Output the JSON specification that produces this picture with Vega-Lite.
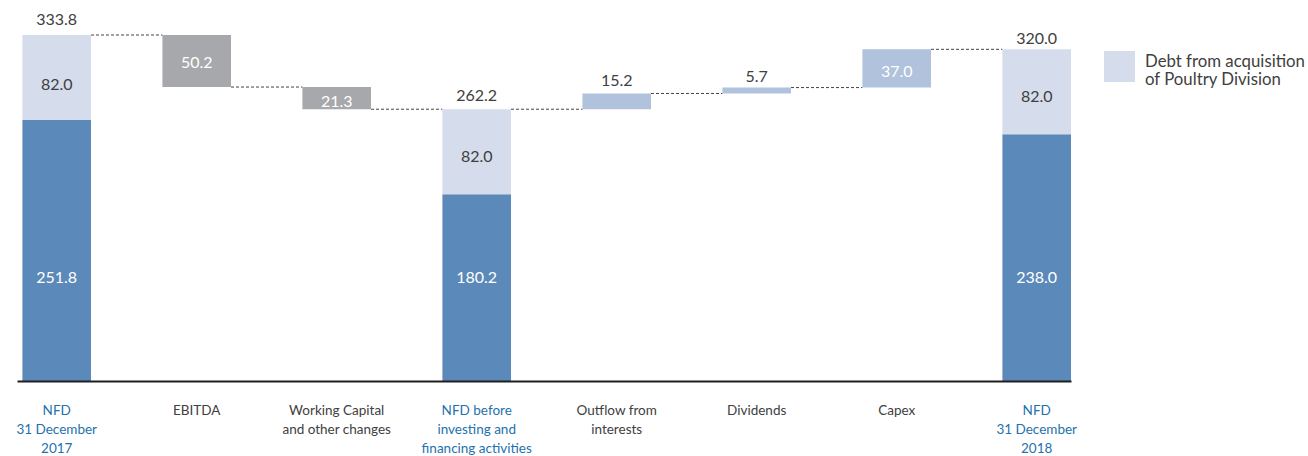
{
  "$schema": "https://vega.github.io/schema/vega-lite/v6.json",
  "width": 1054,
  "height": 352,
  "autosize": "none",
  "padding": {"left": 17, "top": 29, "right": 237, "bottom": 75},
  "background": "white",
  "config": {"view": {"stroke": null}, "font": "Lato"},
  "datasets": {
    "bars": [
      {"cat": "NFD\n31 December\n2017", "lo": 0, "hi": 251.8, "type": "NFD"},
      {"cat": "NFD\n31 December\n2017", "lo": 251.8, "hi": 333.8, "type": "Debt from acquisition of Poultry Division"},
      {"cat": "EBITDA", "lo": 283.6, "hi": 333.8, "type": "Decrease"},
      {"cat": "Working Capital\nand other changes", "lo": 262.2, "hi": 283.6, "type": "Decrease"},
      {"cat": "NFD before\ninvesting and\nfinancing activities", "lo": 0, "hi": 180.2, "type": "NFD"},
      {"cat": "NFD before\ninvesting and\nfinancing activities", "lo": 180.2, "hi": 262.2, "type": "Debt from acquisition of Poultry Division"},
      {"cat": "Outflow from\ninterests", "lo": 262.2, "hi": 277.4, "type": "Increase"},
      {"cat": "Dividends", "lo": 277.4, "hi": 283.1, "type": "Increase"},
      {"cat": "Capex", "lo": 283.1, "hi": 320.0, "type": "Increase"},
      {"cat": "NFD\n31 December\n2018", "lo": 0, "hi": 238.0, "type": "NFD"},
      {"cat": "NFD\n31 December\n2018", "lo": 238.0, "hi": 320.0, "type": "Debt from acquisition of Poultry Division"}
    ],
    "links": [
      {"cat": "NFD\n31 December\n2017", "next": "EBITDA", "v": 333.8},
      {"cat": "EBITDA", "next": "Working Capital\nand other changes", "v": 283.6},
      {"cat": "Working Capital\nand other changes", "next": "NFD before\ninvesting and\nfinancing activities", "v": 262.2},
      {"cat": "NFD before\ninvesting and\nfinancing activities", "next": "Outflow from\ninterests", "v": 262.2},
      {"cat": "Outflow from\ninterests", "next": "Dividends", "v": 277.4},
      {"cat": "Dividends", "next": "Capex", "v": 283.1},
      {"cat": "Capex", "next": "NFD\n31 December\n2018", "v": 320.0}
    ],
    "labels": [
      {"cat": "NFD\n31 December\n2017", "y": 348.3, "text": "333.8", "style": "dark"},
      {"cat": "NFD\n31 December\n2017", "y": 285.5, "text": "82.0", "style": "dark"},
      {"cat": "NFD\n31 December\n2017", "y": 99.4, "text": "251.8", "style": "white"},
      {"cat": "EBITDA", "y": 306.5, "text": "50.2", "style": "white"},
      {"cat": "Working Capital\nand other changes", "y": 269.5, "text": "21.3", "style": "white"},
      {"cat": "NFD before\ninvesting and\nfinancing activities", "y": 275.0, "text": "262.2", "style": "dark"},
      {"cat": "NFD before\ninvesting and\nfinancing activities", "y": 216.0, "text": "82.0", "style": "dark"},
      {"cat": "NFD before\ninvesting and\nfinancing activities", "y": 99.4, "text": "180.2", "style": "white"},
      {"cat": "Outflow from\ninterests", "y": 289.7, "text": "15.2", "style": "dark"},
      {"cat": "Dividends", "y": 293.5, "text": "5.7", "style": "dark"},
      {"cat": "Capex", "y": 298.4, "text": "37.0", "style": "white"},
      {"cat": "NFD\n31 December\n2018", "y": 330.0, "text": "320.0", "style": "dark"},
      {"cat": "NFD\n31 December\n2018", "y": 274.3, "text": "82.0", "style": "dark"},
      {"cat": "NFD\n31 December\n2018", "y": 99.4, "text": "238.0", "style": "white"}
    ]
  },
  "layer": [
    {
      "data": {"name": "links"},
      "mark": {"type": "rule", "strokeDash": [3, 2], "color": "#444444", "strokeWidth": 1},
      "encoding": {
        "x": {"field": "cat", "type": "nominal", "bandPosition": 1, "sort": null,
              "scale": {"domain": ["NFD\n31 December\n2017", "EBITDA", "Working Capital\nand other changes", "NFD before\ninvesting and\nfinancing activities", "Outflow from\ninterests", "Dividends", "Capex", "NFD\n31 December\n2018"], "paddingInner": 0.51, "paddingOuter": 0.0193, "align": 1}},
        "x2": {"field": "next", "bandPosition": 0},
        "y": {"field": "v", "type": "quantitative", "scale": {"domain": [0, 339.6], "nice": false}, "axis": null}
      }
    },
    {
      "data": {"name": "bars"},
      "mark": {"type": "bar"},
      "encoding": {
        "x": {"field": "cat", "type": "nominal", "sort": null,
              "axis": {"title": null, "domainColor": "#1f1f1f", "domainWidth": 2, "ticks": false, "zindex": 1,
                       "labelFont": "Lato", "labelFontSize": 13.5, "labelLineHeight": 19, "labelPadding": 29, "labelAngle": 0,
                       "labelAlign": "center", "labelBaseline": "middle",
                       "labelLimit": 300, "labelOverlap": false, "labelBound": false, "labelFlush": false,
                       "labelExpr": "split(datum.value, '\\n')",
                       "labelColor": {"condition": {"test": "indexof(datum.value, 'NFD') === 0", "value": "#2471ad"}, "value": "#404040"}}},
        "y": {"field": "lo", "type": "quantitative"},
        "y2": {"field": "hi"},
        "color": {"field": "type", "type": "nominal",
                  "scale": {"domain": ["Debt from acquisition of Poultry Division", "NFD", "Decrease", "Increase"], "range": ["#d5dcec", "#5b89b9", "#a7a8ab", "#b0c2dc"]},
                  "legend": {"values": ["Debt from acquisition of Poultry Division"], "orient": "none", "legendX": 1087, "legendY": 22, "title": null,
                             "symbolType": "square", "symbolSize": 961, "symbolStrokeWidth": 0, "symbolOpacity": 1,
                             "labelFont": "Lato", "labelFontSize": 16.8, "labelColor": "#404040", "labelOffset": 10, "padding": 0,
                             "labelBaseline": "alphabetic",
                             "labelExpr": "['Debt from acquisition', 'of Poultry Division']"}}
      }
    },
    {
      "data": {"name": "labels"},
      "mark": {"type": "text", "font": "Lato", "fontSize": 16, "baseline": "middle", "align": "center"},
      "encoding": {
        "x": {"field": "cat", "type": "nominal", "sort": null},
        "y": {"field": "y", "type": "quantitative"},
        "text": {"field": "text"},
        "color": {"condition": {"test": "datum.style === 'white'", "value": "#ffffff"}, "value": "#404040"}
      }
    }
  ]
}
